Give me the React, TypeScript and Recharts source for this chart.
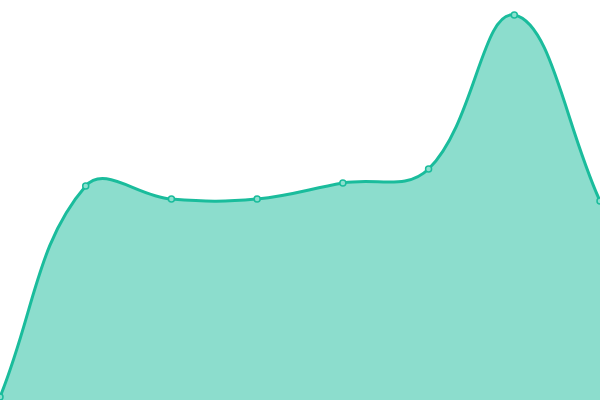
import { AreaChart, Area, XAxis, YAxis } from 'recharts';

const categories = ['A', 'B', 'C', 'D', 'E', 'F', 'G', 'H'];
const values = [3, 214, 201, 201, 217, 231, 385, 199];

const data = categories.map((name, i) => ({ name, value: values[i] }));

const W = 600;
const H = 400;
const TENSION = 0.4;

// cardinal-style spline: control points split by neighbour distances, capped to the plot box
function splineCurve(context: any) {
  let line = NaN;
  let pts: [number, number][] = [];
  const cap = (v: number, max: number) => Math.max(0, Math.min(max, v));
  return {
    areaStart() { line = 0; },
    areaEnd() { line = NaN; },
    lineStart() { pts = []; },
    point(x: number, y: number) { pts.push([+x, +y]); },
    lineEnd() {
      const n = pts.length;
      if (n) {
        const cps = pts.map((p, i) => {
          const prev = pts[Math.max(i - 1, 0)];
          const next = pts[Math.min(i + 1, n - 1)];
          const d01 = Math.hypot(p[0] - prev[0], p[1] - prev[1]);
          const d12 = Math.hypot(next[0] - p[0], next[1] - p[1]);
          const sum = d01 + d12;
          const s01 = sum ? d01 / sum : 0;
          const s12 = sum ? d12 / sum : 0;
          const fa = TENSION * s01;
          const fb = TENSION * s12;
          return {
            inX: cap(p[0] - fa * (next[0] - prev[0]), W),
            inY: cap(p[1] - fa * (next[1] - prev[1]), H),
            outX: cap(p[0] + fb * (next[0] - prev[0]), W),
            outY: cap(p[1] + fb * (next[1] - prev[1]), H),
          };
        });
        const [x0, y0] = pts[0];
        if (line) context.lineTo(x0, y0); else context.moveTo(x0, y0);
        for (let i = 1; i < n; i++) {
          const a = cps[i - 1];
          const b = cps[i];
          context.bezierCurveTo(a.outX, a.outY, b.inX, b.inY, pts[i][0], pts[i][1]);
        }
      }
      if (line || (line !== 0 && n === 1)) context.closePath();
      line = 1 - line;
    },
  };
}

export default function App() {
  return (
    <div style={{ position: 'fixed', left: 0, top: 0, width: W, height: H, background: '#fff' }}>
      <AreaChart width={W} height={H} data={data} margin={{ top: 0, right: 0, bottom: 0, left: 0 }}>
        <XAxis dataKey="name" hide padding={{ left: 0, right: 0 }} />
        <YAxis hide domain={[0, 400]} />
        <Area
          type={splineCurve as any}
          dataKey="value"
          stroke="#1abc9c"
          strokeWidth={3}
          fill="#1abc9c"
          fillOpacity={0.5}
          dot={{ r: 3, fill: '#8ce0cf', stroke: '#1abc9c', strokeWidth: 1.5, fillOpacity: 1 }}
          activeDot={false}
          isAnimationActive={false}
        />
      </AreaChart>
    </div>
  );
}
